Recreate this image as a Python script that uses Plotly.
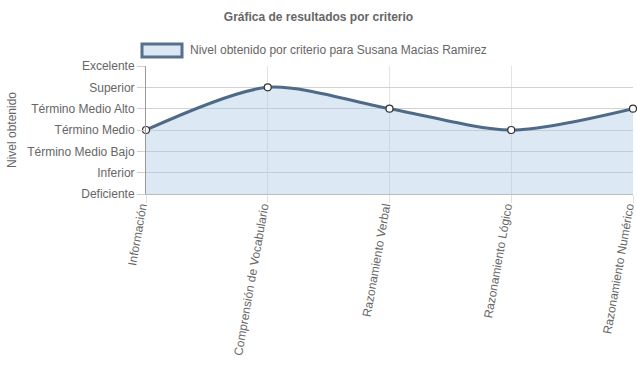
import plotly.graph_objects as go

categories = ["Información", "Comprensión de Vocabulario", "Razonamiento Verbal",
              "Razonamiento Lógico", "Razonamiento Numérico"]
levels = ["Deficiente", "Inferior", "Término Medio Bajo", "Término Medio",
          "Término Medio Alto", "Superior", "Excelente"]
values = [3, 5, 4, 3, 4]
series_name = "Nivel obtenido por criterio para Susana Macias Ramirez"
title = "Gráfica de resultados por criterio"
y_title = "Nivel obtenido"

LINE = "#4e6a86"
FILL = "rgba(168,199,230,0.4)"
FONT = "Liberation Sans, Arial, Helvetica, sans-serif"
GREY = "#666666"

x_idx = list(range(len(categories)))

fig = go.Figure()
fig.add_trace(go.Scatter(
    x=x_idx, y=values, mode="lines+markers",
    line=dict(color=LINE, width=3, shape="spline", smoothing=0.8),
    fill="tozeroy", fillcolor=FILL,
    marker=dict(size=7, color="white", line=dict(color="#333333", width=1.2)),
    cliponaxis=False, showlegend=False, name=series_name,
))

fig.update_layout(
    width=637, height=389,
    margin=dict(l=146, r=4, t=66, b=195),
    paper_bgcolor="white", plot_bgcolor="white",
    font=dict(family=FONT, size=12, color=GREY),
    title=dict(text="<b>" + title + "</b>", x=0.5, xanchor="center",
               y=1 - 17 / 389, yanchor="middle", font=dict(size=12, color=GREY)),
    showlegend=False,
)
fig.update_xaxes(
    range=[0, len(categories) - 1], tickmode="array", tickvals=x_idx, ticktext=categories,
    tickangle=-80, showgrid=True, gridcolor="#e3e3e3", gridwidth=1,
    showline=True, linecolor="#bdbdbd", linewidth=1,
    ticks="outside", ticklen=8, tickcolor="#e0e0e0", zeroline=False,
    tickfont=dict(size=12, color=GREY), ticklabeloverflow="allow",
    ticklabelstandoff=-8, ticklabelshift=-5, automargin=False,
)
fig.update_yaxes(
    range=[0, len(levels) - 1], tickmode="array", tickvals=list(range(len(levels))),
    ticktext=levels, showgrid=True, gridcolor="#d2d2d2", gridwidth=1,
    showline=True, linecolor="#9a9a9a", linewidth=1,
    ticks="outside", ticklen=8, tickcolor="#cfcfcf", zeroline=False,
    tickfont=dict(size=12, color=GREY), automargin=False,
    title=dict(text=y_title, font=dict(size=12, color=GREY), standoff=8),
)

# Legend drawn like Chart.js: a wide box and a label
fig.add_shape(type="rect", xref="paper", yref="paper",
              x0=(142 - 146) / 487, x1=(182 - 146) / 487,
              y0=(194 - 57) / 128, y1=(194 - 44) / 128,
              fillcolor="#dbe7f3", line=dict(color="#56718c", width=3))
fig.add_annotation(xref="paper", yref="paper", x=(188 - 146) / 487, y=(194 - 50) / 128,
                   xanchor="left", yanchor="middle", showarrow=False,
                   text=series_name, font=dict(size=12, color=GREY))

fig.write_html("out.html")
